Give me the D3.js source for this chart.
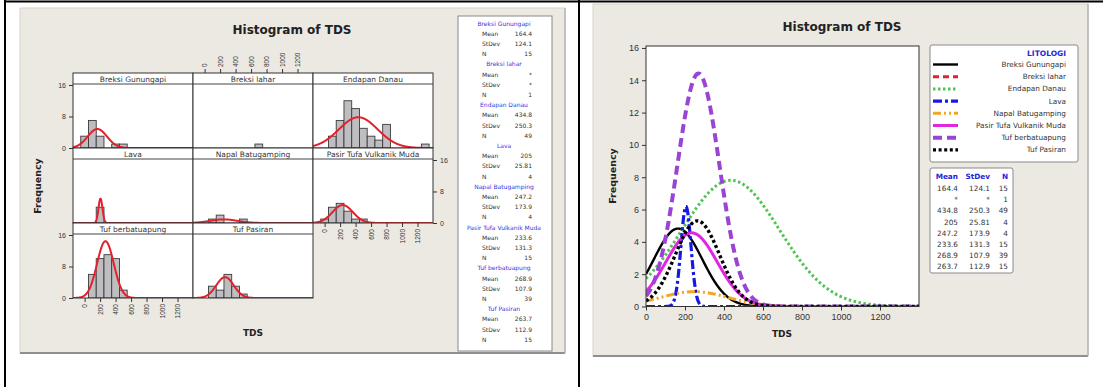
<!DOCTYPE html>
<html>
<head>
<meta charset="utf-8">
<script src="https://cdn.jsdelivr.net/npm/d3@7"></script>
<style>
  html, body { margin: 0; padding: 0; background: #fff; }
  svg { display: block; font-family: "DejaVu Sans", sans-serif; }
</style>
</head>
<body>
<svg id="page" width="1103" height="387"></svg>
<script>
// ---- data --------------------------------------------------------------
const lithologies = ["Breksi Gunungapi", "Breksi lahar", "Endapan Danau", "Lava",
  "Napal Batugamping", "Pasir Tufa Vulkanik Muda", "Tuf berbatuapung", "Tuf Pasiran"];
const means  = [164.4, null, 434.8, 205, 247.2, 233.6, 268.9, 263.7];
const stdevs = [124.1, null, 250.3, 25.81, 173.9, 131.3, 107.9, 112.9];
const counts = [15, 1, 49, 4, 4, 15, 39, 15];
const meanText  = ["164.4", "*", "434.8", "205", "247.2", "233.6", "268.9", "263.7"];
const stdevText = ["124.1", "*", "250.3", "25.81", "173.9", "131.3", "107.9", "112.9"];

// histogram bins: midpoints 0..1300, width 100
const binWidth = 100;
const binMids = [0, 100, 200, 300, 400, 500, 600, 700, 800, 900, 1000, 1100, 1200, 1300];
const binsBreksiGunungapi = [3, 7, 3, 0, 1, 1, 0, 0, 0, 0, 0, 0, 0, 0];
const binsBreksiLahar     = [0, 0, 0, 0, 0, 0, 0, 1, 0, 0, 0, 0, 0, 0];
const binsEndapanDanau    = [0, 3, 7, 12, 10, 5, 3, 2, 6, 0, 0, 0, 0, 1];
const binsLava            = [0, 0, 4, 0, 0, 0, 0, 0, 0, 0, 0, 0, 0, 0];
const binsNapal           = [0, 1, 2, 0, 0, 1, 0, 0, 0, 0, 0, 0, 0, 0];
const binsPasirTufa       = [1, 4, 5, 3, 1, 1, 0, 0, 0, 0, 0, 0, 0, 0];
const binsTufBerbatuapung = [0, 6, 10, 11, 10, 2, 0, 0, 0, 0, 0, 0, 0, 0];
const binsTufPasiran      = [0, 3, 2, 6, 3, 1, 0, 0, 0, 0, 0, 0, 0, 0];

const tdsTicks = [0, 200, 400, 600, 800, 1000, 1200];
const panelFreqTicks = [0, 8, 16];
const freqTicks = [0, 2, 4, 6, 8, 10, 12, 14, 16];

// ---- helpers -----------------------------------------------------------
const allBins = [binsBreksiGunungapi, binsBreksiLahar, binsEndapanDanau, binsLava,
  binsNapal, binsPasirTufa, binsTufBerbatuapung, binsTufPasiran];

function fitted(i, x) {
  const m = means[i], s = stdevs[i];
  if (m == null || s == null) return null;
  const z = (x - m) / s;
  return counts[i] * binWidth * Math.exp(-0.5 * z * z) / (s * Math.sqrt(2 * Math.PI));
}

const fmt = d3.format("d");
const svg = d3.select("#page");
const BEIGE = "#ECE9E3";
const INK = "#222";

function chartBackground(x, y, w, h) {
  svg.append("rect").attr("x", x).attr("y", y).attr("width", w).attr("height", h)
    .attr("fill", BEIGE).attr("stroke", "#d8d4cc").attr("stroke-width", 1);
  svg.append("line").attr("x1", x).attr("x2", x + w).attr("y1", y + h).attr("y2", y + h)
    .attr("stroke", "#8f8f8f").attr("stroke-width", 2);
  svg.append("line").attr("x1", x + w).attr("x2", x + w).attr("y1", y).attr("y2", y + h)
    .attr("stroke", "#b5b5b5").attr("stroke-width", 1.5);
}

// ---- left: paneled histograms -----------------------------------------
chartBackground(20, 8, 545, 345);
svg.append("text").attr("x", 292).attr("y", 34).attr("text-anchor", "middle")
  .attr("font-size", 12).attr("font-weight", "bold").attr("fill", INK).text("Histogram of TDS");

const colX = [73, 193, 313];
const colW = 120;
const rowTop = [73, 148, 223];
const stripH = 11, plotH = 64;

const defs = svg.append("defs");

lithologies.forEach((name, i) => {
  const col = i % 3, row = Math.floor(i / 3);
  const x0 = colX[col], top = rowTop[row];
  const pTop = top + stripH, pBot = pTop + plotH;
  const xs = d3.scaleLinear().domain([-150, 1400]).range([x0, x0 + colW]);
  const ys = d3.scaleLinear().domain([0, 16.25]).range([pBot, pTop]);

  const g = svg.append("g");
  g.append("rect").attr("x", x0).attr("y", top).attr("width", colW).attr("height", stripH + plotH)
    .attr("fill", "#fff");

  const clipId = "clip" + i;
  defs.append("clipPath").attr("id", clipId).append("rect")
    .attr("x", x0).attr("y", pTop).attr("width", colW).attr("height", plotH);
  const inner = g.append("g").attr("clip-path", `url(#${clipId})`);

  const bins = allBins[i];
  inner.selectAll("rect.bar").data(binMids.map((m, k) => ({ m, c: bins[k] })).filter(d => d.c > 0))
    .join("rect").attr("class", "bar")
    .attr("x", d => xs(d.m - binWidth / 2))
    .attr("width", d => xs(d.m + binWidth / 2) - xs(d.m - binWidth / 2))
    .attr("y", d => ys(d.c)).attr("height", d => ys(0) - ys(d.c))
    .attr("fill", "#BEBEC2").attr("stroke", "#3a3a3a").attr("stroke-width", 0.9);

  if (means[i] != null) {
    const pts = d3.range(-150, 1400.1, 2).map(x => [x, fitted(i, x)]);
    inner.append("path").datum(pts)
      .attr("d", d3.line().x(d => xs(d[0])).y(d => ys(d[1])))
      .attr("fill", "none").attr("stroke", "#E3202C").attr("stroke-width", 2);
  }

  // strip
  g.append("line").attr("x1", x0).attr("x2", x0 + colW).attr("y1", pTop).attr("y2", pTop)
    .attr("stroke", "#444").attr("stroke-width", 1);
  g.append("text").attr("x", x0 + colW / 2).attr("y", top + 8.5).attr("text-anchor", "middle")
    .attr("font-size", 7.5).attr("fill", "#333").text(name);
  g.append("rect").attr("x", x0).attr("y", top).attr("width", colW).attr("height", stripH + plotH)
    .attr("fill", "none").attr("stroke", "#333").attr("stroke-width", 1);

  // x axes: column 1 under bottom row, column 2 along the top, column 3 under middle row
  const tickLabel = (sel) => sel.attr("font-size", 6.5).attr("fill", "#333");
  if ((col === 0 && row === 2) || (col === 2 && row === 1)) {
    const ax = g.append("g").attr("transform", `translate(0,${pBot})`)
      .call(d3.axisBottom(xs).tickValues(tdsTicks).tickFormat(fmt).tickSize(4).tickPadding(2));
    ax.select(".domain").remove();
    ax.selectAll("line").attr("stroke", "#333");
    ax.selectAll("text").call(tickLabel).attr("text-anchor", "end")
      .attr("transform", "rotate(-90)").attr("x", -6).attr("y", 0).attr("dy", "0.32em");
  }
  if (col === 1 && row === 0) {
    const ax = g.append("g").attr("transform", `translate(0,${top})`)
      .call(d3.axisTop(xs).tickValues(tdsTicks).tickFormat(fmt).tickSize(4).tickPadding(2));
    ax.select(".domain").remove();
    ax.selectAll("line").attr("stroke", "#333");
    ax.selectAll("text").call(tickLabel).attr("text-anchor", "start")
      .attr("transform", "rotate(-90)").attr("x", 6).attr("y", 0).attr("dy", "0.32em");
  }
  // y axes: left for rows 1 and 3, right for row 2
  if (col === 0 && row !== 1) {
    const ax = g.append("g").attr("transform", `translate(${x0},0)`)
      .call(d3.axisLeft(ys).tickValues(panelFreqTicks).tickSize(4).tickPadding(3));
    ax.select(".domain").remove();
    ax.selectAll("line").attr("stroke", "#333");
    ax.selectAll("text").attr("font-size", 7).attr("fill", "#333");
  }
  if (col === 2 && row === 1) {
    const ax = g.append("g").attr("transform", `translate(${x0 + colW},0)`)
      .call(d3.axisRight(ys).tickValues(panelFreqTicks).tickSize(4).tickPadding(3));
    ax.select(".domain").remove();
    ax.selectAll("line").attr("stroke", "#333");
    ax.selectAll("text").attr("font-size", 7).attr("fill", "#333");
  }
});

svg.append("text").attr("transform", "translate(41,186) rotate(-90)").attr("text-anchor", "middle")
  .attr("font-size", 9.5).attr("font-weight", "bold").attr("fill", INK).text("Frequency");
svg.append("text").attr("x", 253).attr("y", 336).attr("text-anchor", "middle")
  .attr("font-size", 9).attr("font-weight", "bold").attr("fill", INK).text("TDS");

// left statistics panel
svg.append("rect").attr("x", 458).attr("y", 16).attr("width", 94).attr("height", 335)
  .attr("fill", "#fff").attr("stroke", "#8a8a8a").attr("stroke-width", 1);
lithologies.forEach((name, i) => {
  const y0 = 25.5 + i * 4 * 10.2;
  svg.append("text").attr("x", 504).attr("y", y0).attr("text-anchor", "middle")
    .attr("font-size", 6).attr("fill", "#3535E0").text(name);
  [["Mean", meanText[i]], ["StDev", stdevText[i]], ["N", String(counts[i])]].forEach((r, k) => {
    const y = y0 + (k + 1) * 10.2;
    svg.append("text").attr("x", 482).attr("y", y).attr("font-size", 6).attr("fill", "#333").text(r[0]);
    svg.append("text").attr("x", 532).attr("y", y).attr("text-anchor", "end")
      .attr("font-size", 6).attr("fill", "#333").text(r[1]);
  });
});

// ---- right: overlaid fitted distributions ------------------------------
chartBackground(593, 4, 495, 352);
svg.append("text").attr("x", 842).attr("y", 31).attr("text-anchor", "middle")
  .attr("font-size", 12).attr("font-weight", "bold").attr("fill", INK).text("Histogram of TDS");

const px0 = 646, px1 = 919, py0 = 46, py1 = 306.5;
const xR = d3.scaleLinear().domain([0, 1400]).range([px0, px1]);
const yR = d3.scaleLinear().domain([0, 16.12]).range([py1, py0]);

svg.append("rect").attr("x", px0).attr("y", py0).attr("width", px1 - px0).attr("height", py1 - py0)
  .attr("fill", "#fff");

const styles = [
  { color: "#000000", width: 2.4, dash: null },
  { color: "#E3202C", width: 3,   dash: "6,4" },
  { color: "#52C452", width: 3,   dash: "2.5,2.5" },
  { color: "#1818E6", width: 3.2, dash: "9,3,3,3" },
  { color: "#F5A524", width: 3,   dash: "8,3,2,3,2,3" },
  { color: "#E026E0", width: 3,   dash: null },
  { color: "#9A44D6", width: 4,   dash: "9,5" },
  { color: "#000000", width: 3.4, dash: "3,2.6" }
];

defs.append("clipPath").attr("id", "clipR").append("rect")
  .attr("x", px0).attr("y", py0).attr("width", px1 - px0).attr("height", py1 - py0);
const curves = svg.append("g").attr("clip-path", "url(#clipR)");
lithologies.forEach((name, i) => {
  if (means[i] == null) return;
  const pts = d3.range(0, 1400.1, 2).map(x => [x, fitted(i, x)]);
  const p = curves.append("path").datum(pts)
    .attr("d", d3.line().x(d => xR(d[0])).y(d => yR(d[1])))
    .attr("fill", "none").attr("stroke", styles[i].color).attr("stroke-width", styles[i].width);
  if (styles[i].dash) p.attr("stroke-dasharray", styles[i].dash);
});

svg.append("rect").attr("x", px0).attr("y", py0).attr("width", px1 - px0).attr("height", py1 - py0)
  .attr("fill", "none").attr("stroke", "#333").attr("stroke-width", 1);

const axB = svg.append("g").attr("transform", `translate(0,${py1})`)
  .call(d3.axisBottom(xR).tickValues(tdsTicks).tickFormat(fmt).tickSize(4).tickPadding(3));
axB.select(".domain").remove();
axB.selectAll("line").attr("stroke", "#333");
axB.selectAll("text").attr("font-size", 9).attr("fill", "#333");

const axL = svg.append("g").attr("transform", `translate(${px0},0)`)
  .call(d3.axisLeft(yR).tickValues(freqTicks).tickSize(4).tickPadding(3));
axL.select(".domain").remove();
axL.selectAll("line").attr("stroke", "#333");
axL.selectAll("text").attr("font-size", 9).attr("fill", "#333");

svg.append("text").attr("x", 782).attr("y", 337).attr("text-anchor", "middle")
  .attr("font-size", 9).attr("font-weight", "bold").attr("fill", INK).text("TDS");
svg.append("text").attr("transform", "translate(616,176) rotate(-90)").attr("text-anchor", "middle")
  .attr("font-size", 9.5).attr("font-weight", "bold").attr("fill", INK).text("Frequency");

// legend
svg.append("rect").attr("x", 930).attr("y", 45).attr("width", 148).attr("height", 117)
  .attr("rx", 2).attr("fill", "#fff").attr("stroke", "#8a8a8a").attr("stroke-width", 1);
svg.append("text").attr("x", 1066).attr("y", 56).attr("text-anchor", "end")
  .attr("font-size", 7.5).attr("font-weight", "bold").attr("fill", "#2424D8").text("LITOLOGI");
lithologies.forEach((name, i) => {
  const y = 67 + i * 12.2;
  const l = svg.append("line").attr("x1", 933).attr("x2", 958).attr("y1", y - 2.5).attr("y2", y - 2.5)
    .attr("stroke", styles[i].color).attr("stroke-width", styles[i].width);
  if (styles[i].dash) l.attr("stroke-dasharray", styles[i].dash);
  svg.append("text").attr("x", 1066).attr("y", y).attr("text-anchor", "end")
    .attr("font-size", 7.3).attr("fill", "#333").text(name);
});

// summary table
svg.append("rect").attr("x", 930).attr("y", 168).attr("width", 83).attr("height", 105)
  .attr("rx", 2).attr("fill", "#fff").attr("stroke", "#8a8a8a").attr("stroke-width", 1);
const colRight = [958, 990, 1008];
["Mean", "StDev", "N"].forEach((h, k) => {
  svg.append("text").attr("x", colRight[k]).attr("y", 179).attr("text-anchor", "end")
    .attr("font-size", 7.3).attr("font-weight", "bold").attr("fill", "#2424D8").text(h);
});
lithologies.forEach((name, i) => {
  const y = 191 + i * 11.2;
  [meanText[i], stdevText[i], String(counts[i])].forEach((v, k) => {
    svg.append("text").attr("x", colRight[k]).attr("y", y).attr("text-anchor", "end")
      .attr("font-size", 7.3).attr("fill", "#333").text(v);
  });
});

// ---- table borders -------------------------------------------------------
svg.append("line").attr("x1", 4).attr("x2", 1103).attr("y1", 1.5).attr("y2", 1.5)
  .attr("stroke", "#000").attr("stroke-width", 2.2);
svg.append("line").attr("x1", 5).attr("x2", 5).attr("y1", 0).attr("y2", 387)
  .attr("stroke", "#000").attr("stroke-width", 2);
svg.append("line").attr("x1", 579).attr("x2", 579).attr("y1", 0).attr("y2", 387)
  .attr("stroke", "#000").attr("stroke-width", 2);
</script>
</body>
</html>
